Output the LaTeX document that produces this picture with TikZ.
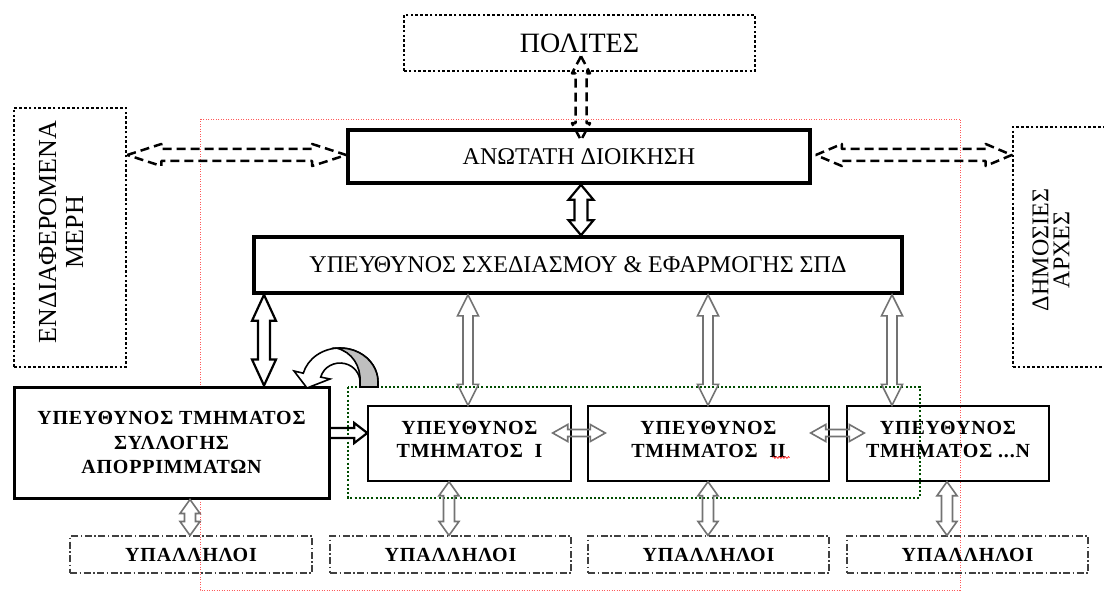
\documentclass[tikz,border=0pt]{standalone}
\usepackage{fontspec}
\setmainfont{Liberation Serif}
\newfontfamily\spcb{Liberation Serif Bold}[LetterSpace=4]
\usetikzlibrary{calc,decorations.pathmorphing}
% vertical double block arrow: style, top point, bottom point, shaft half width, head half width, head length
\newcommand\vdbl[6]{\draw[#1] let \p1=(#2), \p2=(#3) in (\x1,\y1) -- (\x1-#5pt,\y1-#6pt) -- (\x1-#4pt,\y1-#6pt) -- (\x1-#4pt,\y2+#6pt) -- (\x1-#5pt,\y2+#6pt) -- (\x1,\y2) -- (\x1+#5pt,\y2+#6pt) -- (\x1+#4pt,\y2+#6pt) -- (\x1+#4pt,\y1-#6pt) -- (\x1+#5pt,\y1-#6pt) -- cycle;}
% horizontal double block arrow: style, left point, right point, shaft half width, head half width, head length
\newcommand\hdbl[6]{\draw[#1] let \p1=(#2), \p2=(#3) in (\x1,\y1) -- (\x1+#6pt,\y1+#5pt) -- (\x1+#6pt,\y1+#4pt) -- (\x2-#6pt,\y1+#4pt) -- (\x2-#6pt,\y1+#5pt) -- (\x2,\y1) -- (\x2-#6pt,\y1-#5pt) -- (\x2-#6pt,\y1-#4pt) -- (\x1+#6pt,\y1-#4pt) -- (\x1+#6pt,\y1-#5pt) -- cycle;}
% horizontal single block arrow pointing right
\newcommand\hone[6]{\draw[#1] let \p1=(#2), \p2=(#3) in (\x1,\y1+#4pt) -- (\x2-#6pt,\y1+#4pt) -- (\x2-#6pt,\y1+#5pt) -- (\x2,\y1) -- (\x2-#6pt,\y1-#5pt) -- (\x2-#6pt,\y1-#4pt) -- (\x1,\y1-#4pt);}
\begin{document}
\begin{tikzpicture}[x=1pt,y=-1pt,
  reg/.style={font=\fontsize{24}{28}\selectfont},
  bld/.style={font=\spcb\fontsize{20}{23}\selectfont, align=center},
  dept/.style={thinbox, box={#1}{75}, bld, text depth=9pt},
  dotbox/.style={draw, line width=2.6pt, dash pattern=on 2.6pt off 2.2pt},
  thickbox/.style={draw, line width=3.6pt},
  sylbox/.style={draw, line width=3pt, fill=white},
  thinbox/.style={draw, line width=1.4pt},
  dashdotbox/.style={draw=black!75, line width=1.1pt, dash pattern=on 7pt off 2.5pt on 1.5pt off 2.5pt},
  redline/.style={draw=red!65, line width=0.7pt, dash pattern=on 1pt off 1.5pt},
  greenline/.style={draw=green!30!black, line width=2.2pt, dash pattern=on 2pt off 2.2pt},
  dasharrow/.style={draw, line width=2.5pt, dash pattern=on 9pt off 5pt, line join=round},
  blackarrow/.style={draw, line width=2.2pt, line join=miter},
  greyarrow/.style={draw=black!55, line width=1.6pt, line join=miter},
  box/.style 2 args={minimum width=#1pt, minimum height=#2pt, inner sep=0pt}
]
\useasboundingbox (0,0) rectangle (1104,591);
\fill[white] (0,0) rectangle (1104,591);

% frames
\draw[redline] (200,119) rectangle (960,590);
\draw[greenline] (348,387) rectangle (920,498);

% boxes
\node[dotbox, box={351}{56}, font=\fontsize{28}{32}\selectfont] (pol) at (579.5,43) {ΠΟΛΙΤΕΣ};
\node[dotbox, box={112}{259}] (enm) at (70,237.5) {};
\node[rotate=90, align=center, font=\fontsize{26}{27}\selectfont] (enml) at (61,232) {ΕΝΔΙΑΦΕΡΟΜΕΝΑ\\ΜΕΡΗ};
\node[dotbox, box={99}{240}] (dim) at (1062.5,247) {};
\node[rotate=90, align=center, font=\fontsize{24}{21}\selectfont] (diml) at (1051,250) {ΔΗΜΟΣΙΕΣ\\ΑΡΧΕΣ};
\node[thickbox, box={462}{53}, reg] (anw) at (579,156.5) {ΑΝΩΤΑΤΗ ΔΙΟΙΚΗΣΗ};
\node[thickbox, box={648}{56}, reg] (sxd) at (578,265) {ΥΠΕΥΘΥΝΟΣ ΣΧΕΔΙΑΣΜΟΥ \& ΕΦΑΡΜΟΓΗΣ ΣΠΔ};
\node[sylbox, box={315}{111}, bld, font=\spcb\fontsize{20}{24.5}\selectfont] (syl) at (171.5,442.5) {ΥΠΕΥΘΥΝΟΣ ΤΜΗΜΑΤΟΣ\\ΣΥΛΛΟΓΗΣ\\ΑΠΟΡΡΙΜΜΑΤΩΝ};
\node[dept=203] (t1) at (469.5,443.5) {ΥΠΕΥΘΥΝΟΣ\\ΤΜΗΜΑΤΟΣ\ \ Ι};
\node[dept=241] (t2) at (708.5,443.5) {ΥΠΕΥΘΥΝΟΣ\\ΤΜΗΜΑΤΟΣ\ \ ΙΙ};
\node[dept=202] (tn) at (948,443.5) {ΥΠΕΥΘΥΝΟΣ\\ΤΜΗΜΑΤΟΣ ...Ν};
\node[dashdotbox, box={242}{37}, bld] (yp1) at (191,554.5) {ΥΠΑΛΛΗΛΟΙ};
\node[dashdotbox, box={241}{37}, bld] (yp2) at (450.5,554.5) {ΥΠΑΛΛΗΛΟΙ};
\node[dashdotbox, box={241}{37}, bld] (yp3) at (708.5,554.5) {ΥΠΑΛΛΗΛΟΙ};
\node[dashdotbox, box={241}{37}, bld] (yp4) at (967.5,554.5) {ΥΠΑΛΛΗΛΟΙ};

% spell-check squiggle under II
\draw[red, line width=0.6pt, decorate, decoration={snake, amplitude=0.9pt, segment length=3pt}] ($(t2.center)+(64,14)$) -- ($(t2.center)+(81,14)$);

% reference coordinates for connectors
\coordinate (xA) at (581,0);
\coordinate (xB) at (264,0);
\coordinate (xG1) at (468,0);
\coordinate (xG2) at (708,0);
\coordinate (xG3) at (892,0);
\coordinate (xV1) at (190,0);
\coordinate (xV2) at (449,0);
\coordinate (xV3) at (708,0);
\coordinate (xV4) at (947,0);
\coordinate (yD) at (0,155);
\coordinate (yH) at (0,433);

% dashed block arrows
\hdbl{dasharrow}{enm.east |- yD}{anw.west |- yD}{6}{11}{34}
\hdbl{dasharrow}{$(anw.east |- yD)+(4,0)$}{dim.west |- yD}{6}{11}{26}
\vdbl{dasharrow}{$(xA |- pol.south)+(0,-16)$}{$(xA |- anw.north)+(0,12)$}{5.5}{9}{17}

% black block arrows
\vdbl{blackarrow}{xA |- anw.south}{xA |- sxd.north}{6.5}{12.5}{15}
\vdbl{blackarrow}{xB |- sxd.south}{xB |- syl.north}{6}{12}{26}
\hone{blackarrow}{syl.east |- yH}{t1.west |- yH}{5}{10}{13}

% grey block arrows
\vdbl{greyarrow}{xG1 |- sxd.south}{xG1 |- t1.north}{5}{10.5}{21}
\vdbl{greyarrow}{xG2 |- sxd.south}{xG2 |- t2.north}{5}{10.5}{21}
\vdbl{greyarrow}{xG3 |- sxd.south}{xG3 |- tn.north}{5}{10.5}{21}
\hdbl{greyarrow}{$(t1.east |- yH)+(-19,0)$}{$(t2.west |- yH)+(18,0)$}{3.5}{8.5}{15}
\hdbl{greyarrow}{$(t2.east |- yH)+(-19,0)$}{$(tn.west |- yH)+(18,0)$}{3.5}{8.5}{15}
\vdbl{greyarrow}{xV1 |- syl.south}{xV1 |- yp1.north}{5.5}{10}{14}
\vdbl{greyarrow}{xV2 |- t1.south}{xV2 |- yp2.north}{5.5}{10}{14}
\vdbl{greyarrow}{xV3 |- t2.south}{xV3 |- yp3.north}{5.5}{10}{14}
\vdbl{greyarrow}{xV4 |- tn.south}{xV4 |- yp4.north}{5.5}{10}{14}

% curved arrow
\filldraw[fill=white, draw=black, line width=1.6pt, line join=miter]
  (378,387) -- (378,382) arc[start angle=0, end angle=-165, x radius=38, y radius=34]
  -- (294,371) -- (307,388) -- (330,379) -- (320.7,377.1)
  arc[start angle=-165, end angle=0, x radius=20, y radius=19] -- (360,387) -- cycle;
\filldraw[fill=black!25, draw=black, line width=1.6pt]
  (378,387) -- (378,382) arc[start angle=0, end angle=-95, x radius=38, y radius=34]
  .. controls (352,352) and (361,366) .. (360,382) -- (360,387) -- cycle;
\end{tikzpicture}
\end{document}
